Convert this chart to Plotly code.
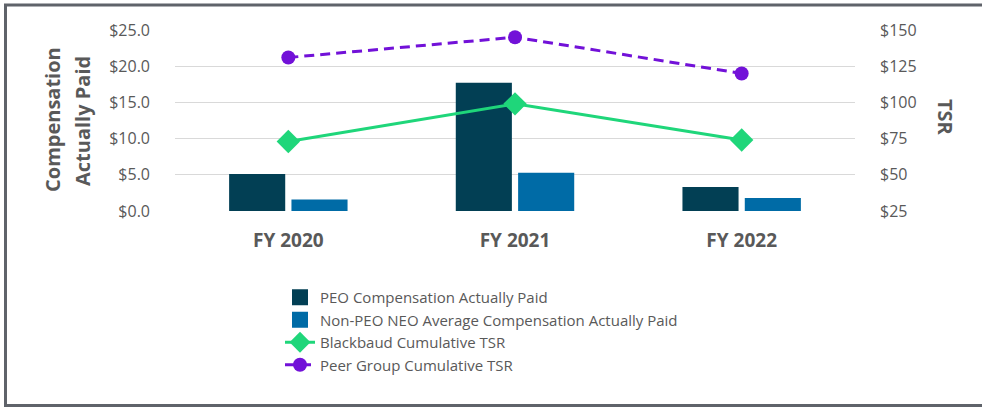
import plotly.graph_objects as go

# data
years = ["FY 2020", "FY 2021", "FY 2022"]
peo_cap = [5.1, 17.7, 3.3]          # $M, left axis
neo_cap = [1.6, 5.3, 1.8]           # $M, left axis
bb_tsr = [73, 99, 74]               # right axis
peer_tsr = [131, 145, 120]          # right axis

W, H = 982, 407
ML, MR, MT, MB = 175, 127, 30, 196
PW = W - ML - MR
PH = H - MT - MB

def px_x(px):
    return (px - ML) / PW

def px_y(py):
    return (H - MB - py) / PH

GRAY = '#595959'
FONT = 'Open Sans'
PEO_COLOR = '#023f54'
NEO_COLOR = '#006ba6'
BB_COLOR = '#1fd67a'
PEER_COLOR = '#7211d8'

fig = go.Figure()

fig.add_trace(go.Bar(x=years, y=peo_cap, name='PEO Compensation Actually Paid',
                     marker=dict(color=PEO_COLOR, line=dict(width=0)), showlegend=False))
fig.add_trace(go.Bar(x=years, y=neo_cap, name='Non-PEO NEO Average Compensation Actually Paid',
                     marker=dict(color=NEO_COLOR, line=dict(width=0)), showlegend=False))
fig.add_trace(go.Scatter(x=years, y=bb_tsr, name='Blackbaud Cumulative TSR', yaxis='y2',
                         mode='lines+markers', showlegend=False,
                         line=dict(color=BB_COLOR, width=3),
                         marker=dict(symbol='diamond', size=18, color=BB_COLOR)))
fig.add_trace(go.Scatter(x=years, y=peer_tsr, name='Peer Group Cumulative TSR', yaxis='y2',
                         mode='lines+markers', showlegend=False,
                         line=dict(color=PEER_COLOR, width=3, dash='10px,6px'),
                         marker=dict(symbol='circle', size=14, color=PEER_COLOR)))

# legend entries (bigger squares than plotly's default bar swatch)
fig.add_trace(go.Scatter(x=[None], y=[None], mode='markers', name='PEO Compensation Actually Paid',
                         marker=dict(symbol='square', size=20, color=PEO_COLOR)))
fig.add_trace(go.Scatter(x=[None], y=[None], mode='markers',
                         name='Non-PEO NEO Average Compensation Actually Paid',
                         marker=dict(symbol='square', size=20, color=NEO_COLOR)))
fig.add_trace(go.Scatter(x=[None], y=[None], mode='lines+markers', name='Blackbaud Cumulative TSR',
                         line=dict(color=BB_COLOR, width=3),
                         marker=dict(symbol='diamond', size=18, color=BB_COLOR)))
fig.add_trace(go.Scatter(x=[None], y=[None], mode='lines+markers', name='Peer Group Cumulative TSR',
                         line=dict(color=PEER_COLOR, width=3, dash='10px,6px'),
                         marker=dict(symbol='circle', size=14, color=PEER_COLOR)))

fig.update_layout(
    width=W, height=H, autosize=False,
    margin=dict(l=ML, r=MR, t=MT, b=MB, pad=0),
    paper_bgcolor='white', plot_bgcolor='white',
    font=dict(family=FONT, size=15, color=GRAY),
    barmode='group', bargap=0.45, bargroupgap=0.1,
    showlegend=True,
    legend=dict(x=px_x(280), y=px_y(281), xanchor='left', yanchor='top',
                font=dict(family=FONT, size=15, color=GRAY),
                bgcolor='rgba(0,0,0,0)', traceorder='normal',
                itemwidth=30, tracegroupgap=0),
    xaxis=dict(showgrid=False, showline=False, ticks='',
               tickfont=dict(family=FONT, size=19, color=GRAY, weight='bold'),
               ticklabelstandoff=16),
    yaxis=dict(range=[0, 25], dtick=5, tickprefix='$', tickformat='.1f',
               showgrid=True, gridcolor='#d9d9d9', gridwidth=1,
               zeroline=False, showline=False, ticks='',
               tickfont=dict(family=FONT, size=16, color=GRAY),
               ticklabelstandoff=24),
    yaxis2=dict(range=[25, 150], dtick=25, tickprefix='$', tickformat='d',
                overlaying='y', side='right', showgrid=False,
                zeroline=False, showline=False, ticks='',
                tickfont=dict(family=FONT, size=16, color=GRAY),
                ticklabelstandoff=24),
)

# axis titles
fig.add_annotation(text='Compensation', textangle=-90,
                   xref='paper', yref='paper', x=px_x(53), y=px_y(120),
                   showarrow=False, xanchor='center', yanchor='middle',
                   font=dict(family=FONT, size=20, color=GRAY, weight='bold'))
fig.add_annotation(text='Actually Paid', textangle=-90,
                   xref='paper', yref='paper', x=px_x(83), y=px_y(121),
                   showarrow=False, xanchor='center', yanchor='middle',
                   font=dict(family=FONT, size=20, color=GRAY, weight='bold'))
fig.add_annotation(text='TSR', textangle=90,
                   xref='paper', yref='paper', x=px_x(946), y=px_y(117),
                   showarrow=False, xanchor='center', yanchor='middle',
                   font=dict(family=FONT, size=20, color=GRAY, weight='bold'))

# outer frame (right side runs off the image)
fig.add_shape(type='rect', xref='paper', yref='paper',
              x0=px_x(5.5), x1=px_x(1000), y0=px_y(405.5), y1=px_y(5),
              line=dict(color='#5f636a', width=3), fillcolor='rgba(0,0,0,0)',
              layer='above')

fig.write_html("out.html", config={'displayModeBar': False},
               post_script="document.body.style.margin='0';")
